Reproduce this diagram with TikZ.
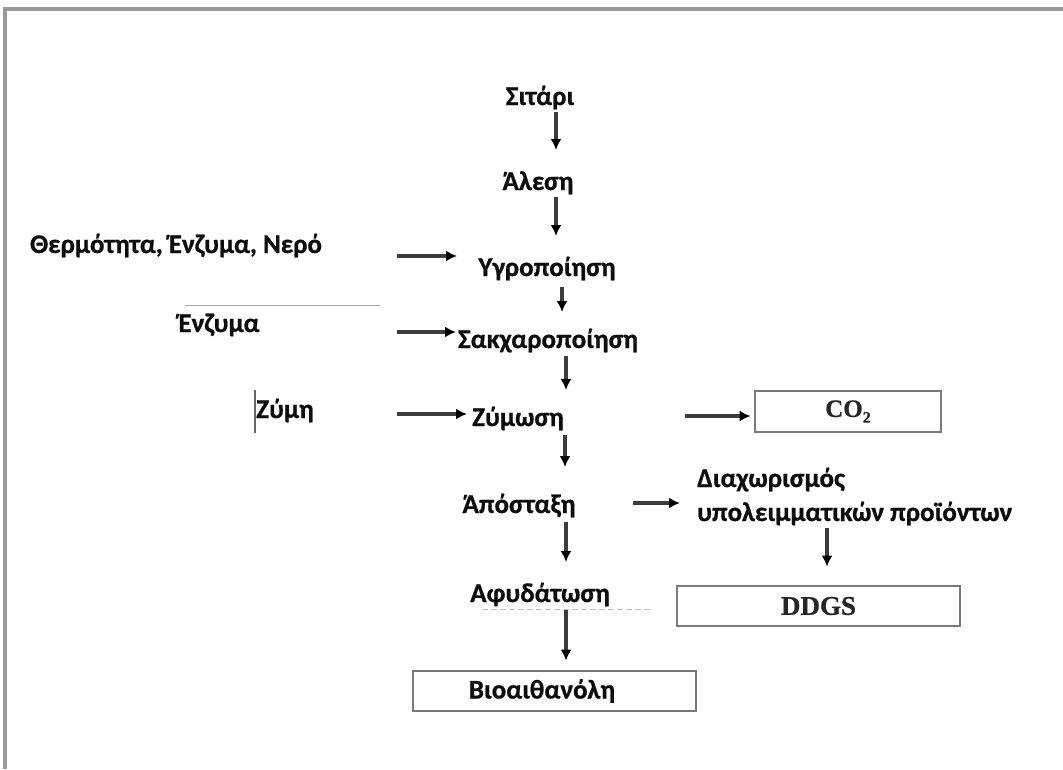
\documentclass[tikz,border=0pt]{standalone}
\usepackage{fontspec}
\setmainfont{Carlito}[BoldFeatures={FakeBold=0.8}]
\newfontfamily\serifbold{Liberation Serif}[BoldFeatures={FakeBold=0.8}]
\usetikzlibrary{arrows.meta}
\definecolor{inkgray}{HTML}{3C3C3C}
\definecolor{framegray}{HTML}{9A9A9A}
\definecolor{boxgray}{HTML}{7A7A7A}
\begin{document}
\begin{tikzpicture}[x=1pt,y=-1pt,
  lbl/.style={inner sep=0pt, anchor=base, font=\fontsize{27}{30}\selectfont\bfseries, text=black!95},
  lblw/.style={lbl, anchor=base west},
  flow/.style={draw=inkgray, line width=3.2pt, -{Latex[black,length=11pt,width=11pt]}},
  outbox/.style={draw=boxgray, line width=2.8pt, inner sep=0pt},
  sertext/.style={font=\serifbold\fontsize{27}{28}\selectfont\bfseries, text=black!85}
]
\useasboundingbox (0,0) rectangle (1063,769);
% outer frame (top and left edges)
\draw[framegray, line width=3.4pt] (5,769) -- (5,9) -- (1063,9);

% main process steps
\node[lbl] (sitari)   at (540,105) {Σιτάρι};
\node[lbl] (alesi)    at (538,190) {Άλεση};
\node[lbl] (ygro)     at (547,276) {Υγροποίηση};
\node[lbl] (sakx)     at (548,348) {Σακχαροποίηση};
\node[lbl] (zymosi)   at (518,426) {Ζύμωση};
\node[lbl] (apostaxi) at (519,513) {Άπόσταξη};
\node[lbl] (afyd)     at (540,602) {Αφυδάτωση};

% inputs on the left
\node[lbl] (therm)  at (176,253) {Θερμότητα, Ένζυμα, Νερό};
\node[lbl] (enzyma) at (219,332) {Ένζυμα};
\node[lbl] (zymi)   at (285,418) {Ζύμη};

% by-product branch
\node[lblw] (diax) at (697,487) {Διαχωρισμός};
\node[lblw] (ypol) at (697,521) {υπολειμματικών προϊόντων};

% output boxes
\node[outbox, minimum width=186pt, minimum height=41pt, sertext] (co2) at (848,411.5) {\fontsize{25}{26}\selectfont CO\raisebox{-0.5ex}{\fontsize{16}{16}\selectfont 2}};
\node[outbox, minimum width=283pt, minimum height=40pt, sertext] (ddgs) at (818.5,606) {DDGS};
\node[outbox, minimum width=283pt, minimum height=40pt, lbl, anchor=center] (bio) at (554.5,691) {\hspace*{-25pt}Βιοαιθανόλη};

% main line arrows
\draw[flow] ([shift={(16,7)}]sitari.base)   -- ([shift={(18,-40)}]alesi.base);
\draw[flow] ([shift={(18,7)}]alesi.base)    -- ([shift={(9,-40)}]ygro.base);
\draw[flow] ([shift={(15,11)}]ygro.base)    -- ([shift={(14,-36)}]sakx.base);
\draw[flow] ([shift={(18,8)}]sakx.base)     -- ([shift={(48,-36)}]zymosi.base);
\draw[flow] ([shift={(47,9)}]zymosi.base)   -- ([shift={(46,-46)}]apostaxi.base);
\draw[flow] ([shift={(47,9)}]apostaxi.base) -- ([shift={(26,-40)}]afyd.base);
\draw[flow] ([shift={(26,8)}]afyd.base)     -- ([shift={(11.5,-9)}]bio.north);

% inputs
\draw[flow] ([shift={(221,3)}]therm.base)  -- ([shift={(-90,-20)}]ygro.base);
\draw[flow] ([shift={(178,0)}]enzyma.base) -- ([shift={(-92,-16)}]sakx.base);
\draw[flow] ([shift={(112,-4)}]zymi.base)  -- ([shift={(-51,-12)}]zymosi.base);

% outputs
\draw[flow] ([shift={(167,-10)}]zymosi.base)   -- ([shift={(-3,4.5)}]co2.west);
\draw[flow] ([shift={(114,-10)}]apostaxi.base) -- ([shift={(-17,16)}]diax.base west);
\draw[flow] ([shift={(130,7)}]ypol.base west)  -- ([shift={(8.5,-18)}]ddgs.north);

% stray editing marks
\draw[black!35, line width=0.8pt] (185,305) -- (380,305);
\draw[black!60, line width=1.6pt] (255,390) -- (255,433);
\draw[black!25, line width=0.8pt, dash pattern=on 6pt off 3pt] (482,609) -- (650,609);
\end{tikzpicture}
\end{document}
